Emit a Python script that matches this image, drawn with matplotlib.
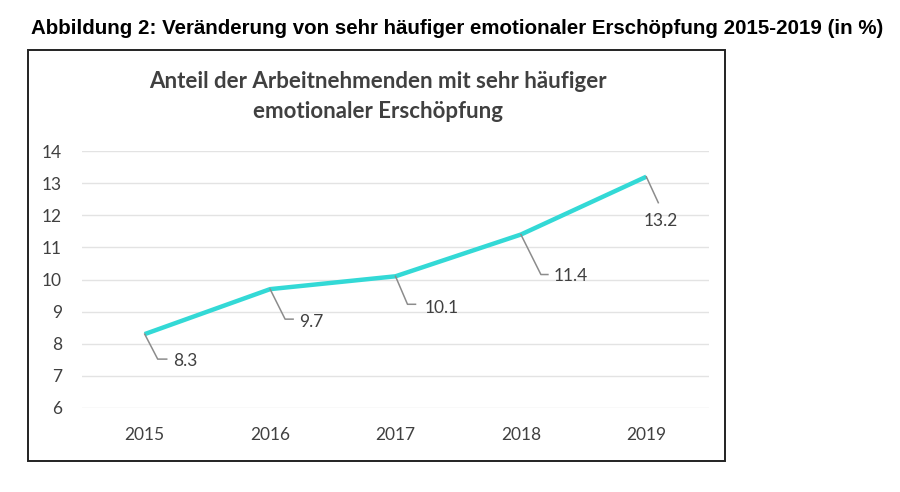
import matplotlib.pyplot as plt
from matplotlib.patches import Rectangle
from matplotlib.lines import Line2D

years = ["2015", "2016", "2017", "2018", "2019"]
values = [8.3, 9.7, 10.1, 11.4, 13.2]
value_labels = ["8.3", "9.7", "10.1", "11.4", "13.2"]

# leader offsets in pixels (right, down): knee, end of horizontal tick, label anchor
leaders = [
    ((13, 25), (22, 25), (28, 27), "left"),
    ((15, 30), (23, 30), (29, 33), "left"),
    ((12, 28), (20, 28), (29, 32), "left"),
    ((20, 40), (27, 40), (33, 41), "left"),
    ((12, 26), (12, 26), (14, 44), "center"),
]

W, H = 900, 492
fig = plt.figure(figsize=(W / 100, H / 100), dpi=100)
fig.patch.set_facecolor("white")

fig.text(31 / W, 1 - 29 / H,
         "Abbildung 2: Veränderung von sehr häufiger emotionaler Erschöpfung 2015-2019 (in %)",
         fontsize=14.8, fontweight="bold", family="Liberation Sans",
         ha="left", va="center", color="black")

fig.patches.append(Rectangle((28 / W, 1 - 461 / H), 697 / W, 411 / H,
                             transform=fig.transFigure, fill=False,
                             edgecolor="#222222", linewidth=1.4))

fig.text(378 / W, 1 - 81 / H, "Anteil der Arbeitnehmenden mit sehr häufiger",
         fontsize=16, fontweight="bold", family="Lato", color="#404040",
         ha="center", va="center")
fig.text(378 / W, 1 - 112 / H, "emotionaler Erschöpfung",
         fontsize=16, fontweight="bold", family="Lato", color="#404040",
         ha="center", va="center")

ax = fig.add_axes([82 / W, 1 - 408 / H, 627 / W, 257 / H])
x = list(range(len(years)))
ax.plot(x, values, color="#33D9D6", linewidth=3.2, solid_capstyle="butt",
        solid_joinstyle="round", zorder=3)
ax.set_xlim(-0.5, len(years) - 0.5)
ax.set_ylim(6, 14)
ax.set_yticks(range(6, 15))
ax.set_xticks(x)
ax.set_xticklabels(years)
ax.grid(axis="y", color="#e3e3e3", linewidth=1)
ax.set_axisbelow(True)
for s in ax.spines.values():
    s.set_visible(False)
ax.tick_params(length=0, labelsize=12.5, labelcolor="#404040")
ax.tick_params(axis="y", pad=14.5)
ax.tick_params(axis="x", pad=14)
for lab in ax.get_xticklabels() + ax.get_yticklabels():
    lab.set_family("Lato")

fig.canvas.draw()
for i, v in enumerate(values):
    px, py = ax.transData.transform((i, v))
    knee, end, lab, ha = leaders[i]
    xs = [px, px + knee[0], px + end[0]]
    ys = [py, py - knee[1], py - end[1]]
    fig.lines.append(Line2D(xs, ys, transform=None, color="#8c8c8c", linewidth=1.1))
    fig.text(px + lab[0], py - lab[1], value_labels[i], transform=None,
             fontsize=12.5, family="Lato", color="#404040", ha=ha, va="center")

fig.savefig("out.png", dpi=100)
